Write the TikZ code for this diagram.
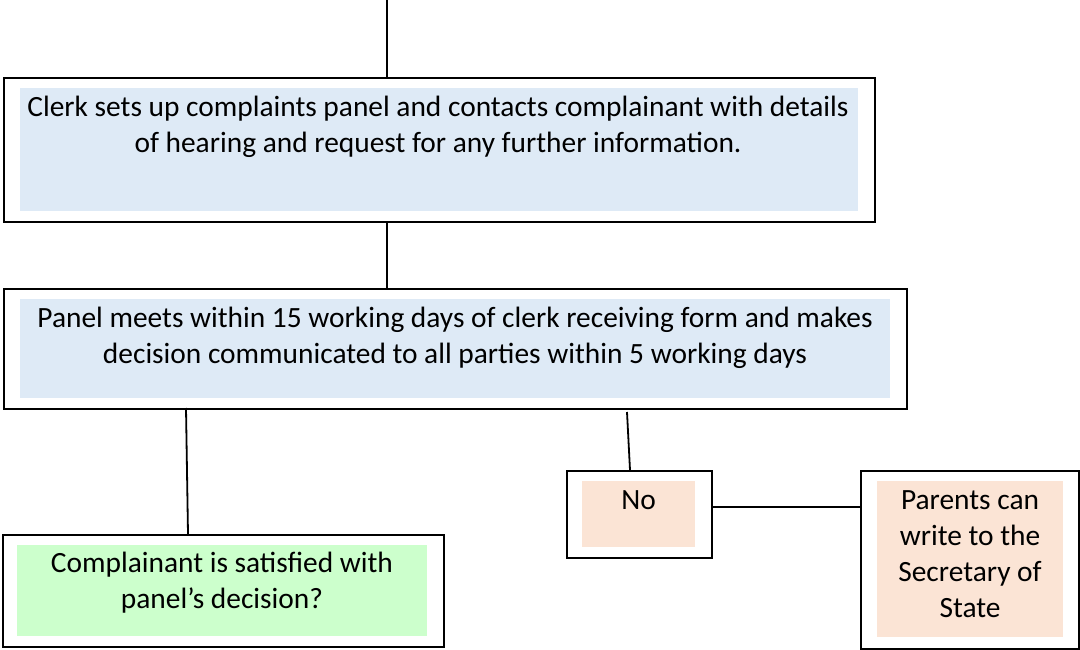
\documentclass[tikz,border=0pt]{standalone}
\usepackage{fontspec}
\setmainfont{Carlito}
\definecolor{bluefill}{HTML}{DEEAF6}
\definecolor{greenfill}{HTML}{CCFFCC}
\definecolor{peachfill}{HTML}{FBE4D5}
\begin{document}
\begin{tikzpicture}[x=1pt,y=-1pt,
  outerbox/.style={draw=black,line width=2pt,rectangle,inner sep=0pt},
  label/.style={inner sep=0pt,align=center,anchor=north,font=\fontsize{29.4pt}{36pt}\selectfont},
  conn/.style={draw=black,line width=1.8pt}]
\useasboundingbox (0,0) rectangle (1080,650);
% outer boxes
\node[outerbox,minimum width=871pt,minimum height=144pt,anchor=north west] (b1) at (3,77) {};
\node[outerbox,minimum width=903pt,minimum height=120pt,anchor=north west] (b2) at (3,288) {};
\node[outerbox,minimum width=441pt,minimum height=112pt,anchor=north west] (b3) at (2,534) {};
\node[outerbox,minimum width=145pt,minimum height=87pt,anchor=north west] (bno) at (566,470) {};
\node[outerbox,minimum width=218pt,minimum height=178pt,anchor=north west] (bpar) at (860,470) {};
% inner fills
\fill[bluefill] (20,88) rectangle (858,211);
\fill[bluefill] (20,299) rectangle (890,398);
\fill[greenfill] (17,545) rectangle (427,636);
\fill[peachfill] (582,481) rectangle (695,547);
\fill[peachfill] (877,481) rectangle (1063,637);
% texts
\node[label] (t1) at (438,{116-25.2}) {\strut Clerk sets up complaints panel and contacts complainant with details\\of hearing and request for any further information.};
\node[label] (t2) at (455,{327-25.2}) {\strut Panel meets within 15 working days of clerk receiving form and makes\\decision communicated to all parties within 5 working days};
\node[label] (t3) at (222,{572-25.2}) {\strut Complainant is satisfied with\\panel’s decision?};
\node[label] (tno) at (638.5,{509-25.2}) {\strut No};
\node[label] (tpar) at (970,{509-25.2}) {\strut Parents can\\write to the\\Secretary of\\State};
% connectors
\coordinate (top) at (387,0);
\draw[conn] (top) -- (top |- b1.north);
\coordinate (c12) at (387,222);
\draw[conn] (c12) -- (c12 |- b2.north);
\coordinate (c23a) at (186,408);
\coordinate (c23b) at (188,534);
\draw[conn] (c23a) -- (c23b);
\coordinate (c2na) at (627,412);
\coordinate (c2nb) at (630,470);
\draw[conn] (c2na) -- (c2nb);
\coordinate (cnp) at (711,507);
\draw[conn] (cnp) -- (cnp -| bpar.west);
\end{tikzpicture}
\end{document}
